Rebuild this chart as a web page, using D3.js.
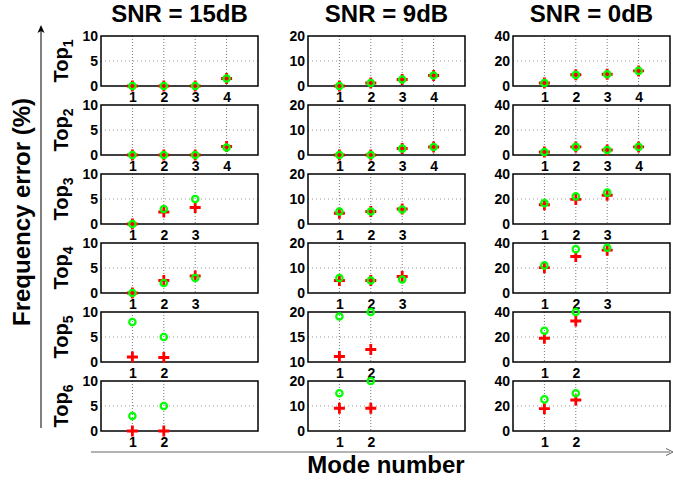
<!DOCTYPE html>
<html lang="en">
<head>
  <meta charset="UTF-8">
  <title>Frequency error per mode</title>
  <script src="https://cdn.jsdelivr.net/npm/d3@7/dist/d3.min.js"></script>
  <style>
    body { margin: 0; background: #fff; font-family: "Liberation Sans", Arial, sans-serif; }
    .tick text { font-family: "Liberation Sans", Arial, sans-serif; font-size: 14px; font-weight: bold; fill: #000; }
    .big { font-size: 24px; font-weight: bold; }
    .toplab { font-size: 20px; font-weight: bold; }
  </style>
</head>
<body>
<script>
// --- data ---
const snrTitles = ["SNR = 15dB", "SNR = 9dB", "SNR = 0dB"];
const topNames = ["1", "2", "3", "4", "5", "6"];
const modeCounts = [4, 4, 3, 3, 2, 2];

// y ranges and tick labels per column (row 5 of 9dB differs)
const yDomain15 = [[0, 10], [0, 10], [0, 10], [0, 10], [0, 10], [0, 10]];
const yDomain9  = [[0, 20], [0, 20], [0, 20], [0, 20], [10, 20], [0, 20]];
const yDomain0  = [[0, 40], [0, 40], [0, 40], [0, 40], [0, 40], [0, 40]];
const yTicks15 = [0, 5, 10];
const yTicks9  = [0, 10, 20];
const yTicks9r5 = [10, 15, 20];
const yTicks0  = [0, 20, 40];

// green circles
const circle15 = [[0, 0, 0, 1.5], [0, 0, 0, 1.5], [0, 3, 5], [0, 2, 3], [8, 5], [3, 5]];
const circle9  = [[0, 1.2, 2.6, 4.2], [0, 0, 2.6, 3.2], [5, 5, 5.8], [6, 5, 5.4], [19.1, 20], [15.1, 20]];
const circle0  = [[2.4, 8.9, 9.4, 12.1], [2.4, 6.5, 4, 6.5], [16.7, 22.1, 25.1], [22.1, 35.1, 36.2], [25, 40], [25.3, 30.2]];
// red pluses
const plus15 = [[0, 0, 0, 1.5], [0, 0, 0, 1.7], [0, 2.4, 3.3], [0, 2.5, 3.4], [1, 0.9], [0, 0]];
const plus9  = [[0, 1.2, 2.6, 4.2], [0, 0, 2.6, 3.2], [4.3, 5, 6], [5, 5, 6.6], [11.1, 12.5], [9.1, 9.1]];
const plus0  = [[2.4, 9, 9.4, 12.1], [2.4, 6.5, 4, 6.5], [15.4, 19.7, 23], [20.3, 29.2, 34.3], [19, 32.8], [17.9, 24.8]];

const columns = [
  { domains: yDomain15, ticks: () => yTicks15, circles: circle15, pluses: plus15 },
  { domains: yDomain9, ticks: r => (r === 4 ? yTicks9r5 : yTicks9), circles: circle9, pluses: plus9 },
  { domains: yDomain0, ticks: () => yTicks0, circles: circle0, pluses: plus0 }
];

// --- layout ---
const W = 673, H = 480;
const colX = [101, 308, 513], panelW = 157;
const rowY = [36, 105, 174, 243, 312, 381], panelH = 50;

const svg = d3.select("body").append("svg")
  .attr("width", W).attr("height", H);

const x = d3.scaleLinear().domain([0, 5]).range([0, panelW]);

columns.forEach((col, c) => {
  svg.append("text")
    .attr("class", "big")
    .attr("x", colX[c] + panelW / 2)
    .attr("y", 22)
    .attr("text-anchor", "middle")
    .text(snrTitles[c]);

  modeCounts.forEach((n, r) => {
    const modes = d3.range(1, n + 1);
    const y = d3.scaleLinear().domain(col.domains[r]).range([panelH, 0]);
    const yt = col.ticks(r);
    const g = svg.append("g").attr("transform", `translate(${colX[c]},${rowY[r]})`);

    // dotted grid
    g.append("g").selectAll("line.gx").data(modes).enter().append("line")
      .attr("x1", d => x(d)).attr("x2", d => x(d))
      .attr("y1", 0).attr("y2", panelH)
      .attr("stroke", "#777").attr("stroke-width", 1).attr("stroke-dasharray", "1,2");
    g.append("g").selectAll("line.gy").data(yt.slice(1, -1)).enter().append("line")
      .attr("x1", 0).attr("x2", panelW)
      .attr("y1", d => y(d)).attr("y2", d => y(d))
      .attr("stroke", "#999").attr("stroke-width", 1).attr("stroke-dasharray", "1,3");

    // axes
    const ax = g.append("g").attr("transform", `translate(0,${panelH})`)
      .call(d3.axisBottom(x).tickValues(modes).tickFormat(d3.format("d")).tickSize(0).tickPadding(6));
    ax.select(".domain").remove();
    const ay = g.append("g")
      .call(d3.axisLeft(y).tickValues(yt).tickFormat(d3.format("d")).tickSize(0).tickPadding(3));
    ay.select(".domain").remove();

    g.append("rect")
      .attr("width", panelW).attr("height", panelH)
      .attr("fill", "none").attr("stroke", "#000").attr("stroke-width", 1.5);

    // red pluses, then green circles on top
    g.append("g").selectAll("path").data(col.pluses[r]).enter().append("path")
      .attr("transform", (d, i) => `translate(${x(modes[i])},${y(d)})`)
      .attr("d", "M-5.5,0H5.5M0,-5.5V5.5")
      .attr("stroke", "#ff0000").attr("stroke-width", 2.8).attr("fill", "none");
    g.append("g").selectAll("circle").data(col.circles[r]).enter().append("circle")
      .attr("cx", (d, i) => x(modes[i])).attr("cy", d => y(d))
      .attr("r", 3.2)
      .attr("fill", "none").attr("stroke", "#00ff00").attr("stroke-width", 2.2);

    // row label (only on first column)
    if (c === 0) {
      const t = svg.append("text")
        .attr("class", "toplab")
        .attr("transform", `translate(68,${rowY[r] + panelH / 2}) rotate(-90)`)
        .attr("text-anchor", "middle");
      t.append("tspan").text("Top");
      t.append("tspan").attr("font-size", "14px").attr("dy", "5").text(topNames[r]);
    }
  });
});

// figure-level labels with arrow lines
svg.append("text")
  .attr("class", "big")
  .attr("transform", "translate(30,212) rotate(-90)")
  .attr("text-anchor", "middle")
  .text("Frequency error (%)");

svg.append("text")
  .attr("class", "big")
  .attr("x", 386).attr("y", 473)
  .attr("text-anchor", "middle")
  .text("Mode number");

svg.append("line")
  .attr("x1", 41).attr("x2", 41).attr("y1", 428).attr("y2", 27)
  .attr("stroke", "#000").attr("stroke-width", 1);
svg.append("path")
  .attr("d", "M41,25L37.5,33L41,31L44.5,33Z")
  .attr("fill", "#000");

svg.append("line")
  .attr("x1", 91).attr("x2", 670).attr("y1", 452).attr("y2", 452)
  .attr("stroke", "#666").attr("stroke-width", 1);
svg.append("path")
  .attr("d", "M666,448.5L673,452L666,455.5")
  .attr("fill", "none").attr("stroke", "#666").attr("stroke-width", 1);
</script>
</body>
</html>
